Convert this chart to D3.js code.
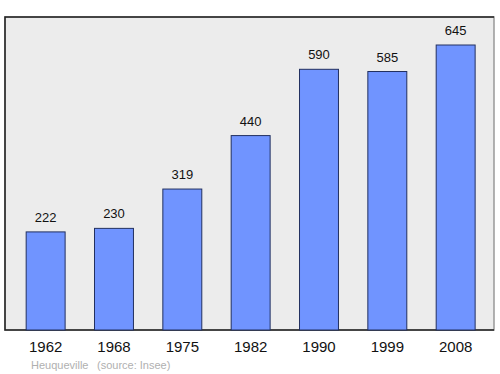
<!DOCTYPE html>
<html>
<head>
<meta charset="utf-8">
<script src="https://cdn.jsdelivr.net/npm/d3@7"></script>
<style>
  body { margin: 0; background: #fff; }
  text { font-family: "Liberation Sans", Arial, sans-serif; }
</style>
</head>
<body>
<div id="chart"></div>
<script>
// population data
const years = ["1962", "1968", "1975", "1982", "1990", "1999", "2008"];
const population = [222, 230, 319, 440, 590, 585, 645];
const footerPlace = "Heuqueville";
const footerSource = "(source: Insee)";

const width = 500, height = 374;
const panel = { left: 5, top: 17, right: 494, bottom: 330 };

let svg = d3.select("#chart").append("svg")
    .attr("width", width)
    .attr("height", height);

// grey panel with the dark frame
svg.append("rect")
    .attr("x", panel.left)
    .attr("y", panel.top)
    .attr("width", panel.right - panel.left)
    .attr("height", panel.bottom - panel.top)
    .attr("fill", "#ececec")
    .attr("stroke", "#999")
    .attr("stroke-width", 1.5);

svg.append("path")
    .attr("d", "M" + panel.right + "," + panel.top + "H" + panel.left + "V" + panel.bottom + "H" + panel.right)
    .attr("fill", "none")
    .attr("stroke", "#222")
    .attr("stroke-width", 1.5);

let xScale = d3.scaleBand()
    .domain(years)
    .range([12.5, 488.8])
    .paddingInner(0.43)
    .paddingOuter(0.2);

let yScale = d3.scaleLinear()
    .domain([0, 645])
    .range([panel.bottom, 45]);

svg.selectAll(".bar")
    .data(population)
    .enter().append("rect")
    .attr("class", "bar")
    .attr("x", (d, i) => xScale(years[i]))
    .attr("y", d => yScale(d))
    .attr("width", xScale.bandwidth())
    .attr("height", d => panel.bottom - yScale(d))
    .attr("fill", "#7094ff")
    .attr("stroke", "#223060")
    .attr("stroke-width", 1);

// value labels
svg.selectAll(".val")
    .data(population)
    .enter().append("text")
    .attr("class", "val")
    .attr("x", (d, i) => xScale(years[i]) + xScale.bandwidth() / 2)
    .attr("y", d => yScale(d) - 10)
    .attr("text-anchor", "middle")
    .attr("font-size", 13)
    .attr("fill", "#111")
    .text(d => d);

// year axis
let xAxis = svg.append("g")
    .attr("transform", "translate(0," + panel.bottom + ")")
    .call(d3.axisBottom(xScale).tickSize(0).tickPadding(11));
xAxis.select(".domain").remove();
xAxis.selectAll("text")
    .attr("font-size", 15)
    .attr("font-family", "'Liberation Sans', Arial, sans-serif")
    .attr("fill", "#111");

// footer
svg.append("text")
    .attr("x", 31)
    .attr("y", 369)
    .attr("font-size", 11)
    .attr("fill", "#b0b0b0")
    .text(footerPlace);

svg.append("text")
    .attr("x", 97)
    .attr("y", 369)
    .attr("font-size", 11)
    .attr("fill", "#b0b0b0")
    .text(footerSource);
</script>
</body>
</html>
